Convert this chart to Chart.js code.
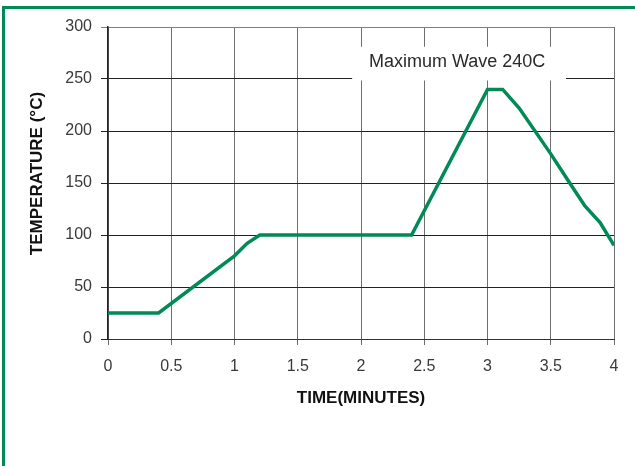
<!DOCTYPE html>
<html>
<head>
<meta charset="utf-8">
<script src="https://cdn.jsdelivr.net/npm/chart.js@4"></script>
<style>
  html, body { margin: 0; padding: 0; background: #fff; }
  body { width: 635px; height: 466px; position: relative; overflow: hidden; }
  #frame { position: absolute; left: 2px; top: 6px; right: 0; bottom: 0;
           border-left: 3px solid #008a56; border-top: 3px solid #008a56; }
  #grafica { position: absolute; left: 0; top: 0; }
</style>
</head>
<body>
<div id="frame"></div>
<canvas id="grafica" width="635" height="466"></canvas>
<script>
// reflow profile
const tiempo = [0, 0.4, 1.0, 1.1, 1.2, 2.4, 3.0, 3.12, 3.25, 3.5, 3.65, 3.77, 3.89, 4.0];
const temperatura = [25, 25, 80, 92, 100, 100, 240, 240, 222, 178, 150, 128, 112, 90];
const ticksX = ['0', '0.5', '1', '1.5', '2', '2.5', '3', '3.5', '4'];
const ticksY = [0, 50, 100, 150, 200, 250, 300];
const nota = 'Maximum Wave 240C';

const verde = '#008a56';
const fuente = '"Liberation Sans", Arial, sans-serif';

// white label box over the grid, under the line
const cajaNota = {
    id: 'cajaNota',
    beforeDatasetsDraw(chart) {
        const ctx = chart.ctx;
        const x = chart.scales.x, y = chart.scales.y;
        const x0 = x.getPixelForValue(1.93), x1 = x.getPixelForValue(3.62);
        const y0 = y.getPixelForValue(281), y1 = y.getPixelForValue(250);
        ctx.save();
        ctx.fillStyle = '#fff';
        ctx.fillRect(x0, y0, x1 - x0, y1 - y0 + 1.5);
        ctx.fillStyle = '#2a2a2a';
        ctx.font = '18px ' + fuente;
        ctx.textAlign = 'center';
        ctx.textBaseline = 'middle';
        ctx.fillText(nota, x.getPixelForValue(2.76), y.getPixelForValue(266));
        ctx.restore();
    }
};

const ctx = document.getElementById('grafica').getContext('2d');
new Chart(ctx, {
    type: 'line',
    data: {
        datasets: [{
            data: tiempo.map((t, i) => ({ x: t, y: temperatura[i] })),
            borderColor: verde,
            borderWidth: 3.5,
            pointRadius: 0,
            tension: 0,
            fill: false
        }]
    },
    options: {
        responsive: false,
        animation: false,
        layout: { padding: { top: 27, right: 21, bottom: 0, left: 0 } },
        plugins: {
            legend: { display: false },
            tooltip: { enabled: false }
        },
        scales: {
            x: {
                type: 'linear',
                min: 0,
                max: 4,
                afterFit: s => { s.height = 127; },
                afterBuildTicks: s => { s.ticks = ticksX.map(v => ({ value: parseFloat(v) })); },
                ticks: {
                    callback: (v, i) => ticksX[i],
                    color: '#3a3a3a',
                    font: { family: fuente, size: 16 },
                    padding: 12,
                    maxRotation: 0
                },
                grid: { color: '#6f6f6f', lineWidth: 1, tickLength: 6 },
                border: { color: '#333', width: 1 },
                title: {
                    display: true,
                    text: 'TIME(MINUTES)',
                    color: '#111',
                    font: { family: fuente, size: 17, weight: 'bold' },
                    padding: { top: 0, bottom: 57 }
                }
            },
            y: {
                min: 0,
                max: 300,
                afterFit: s => { s.width = 108; },
                afterBuildTicks: s => { s.ticks = ticksY.map(v => ({ value: v })); },
                ticks: {
                    color: '#3a3a3a',
                    font: { family: fuente, size: 16 },
                    padding: 9
                },
                grid: {
                    color: c => (c.tick && c.tick.value === 300) ? '#7f7f7f' : '#222',
                    lineWidth: 1,
                    tickLength: 7
                },
                border: { color: '#222', width: 1.5 },
                title: {
                    display: true,
                    text: '    TEMPERATURE (°C)',
                    color: '#111',
                    font: { family: fuente, size: 17, weight: 'bold' },
                    padding: { top: 27, bottom: 0 }
                }
            }
        }
    },
    plugins: [cajaNota]
});
</script>
</body>
</html>
